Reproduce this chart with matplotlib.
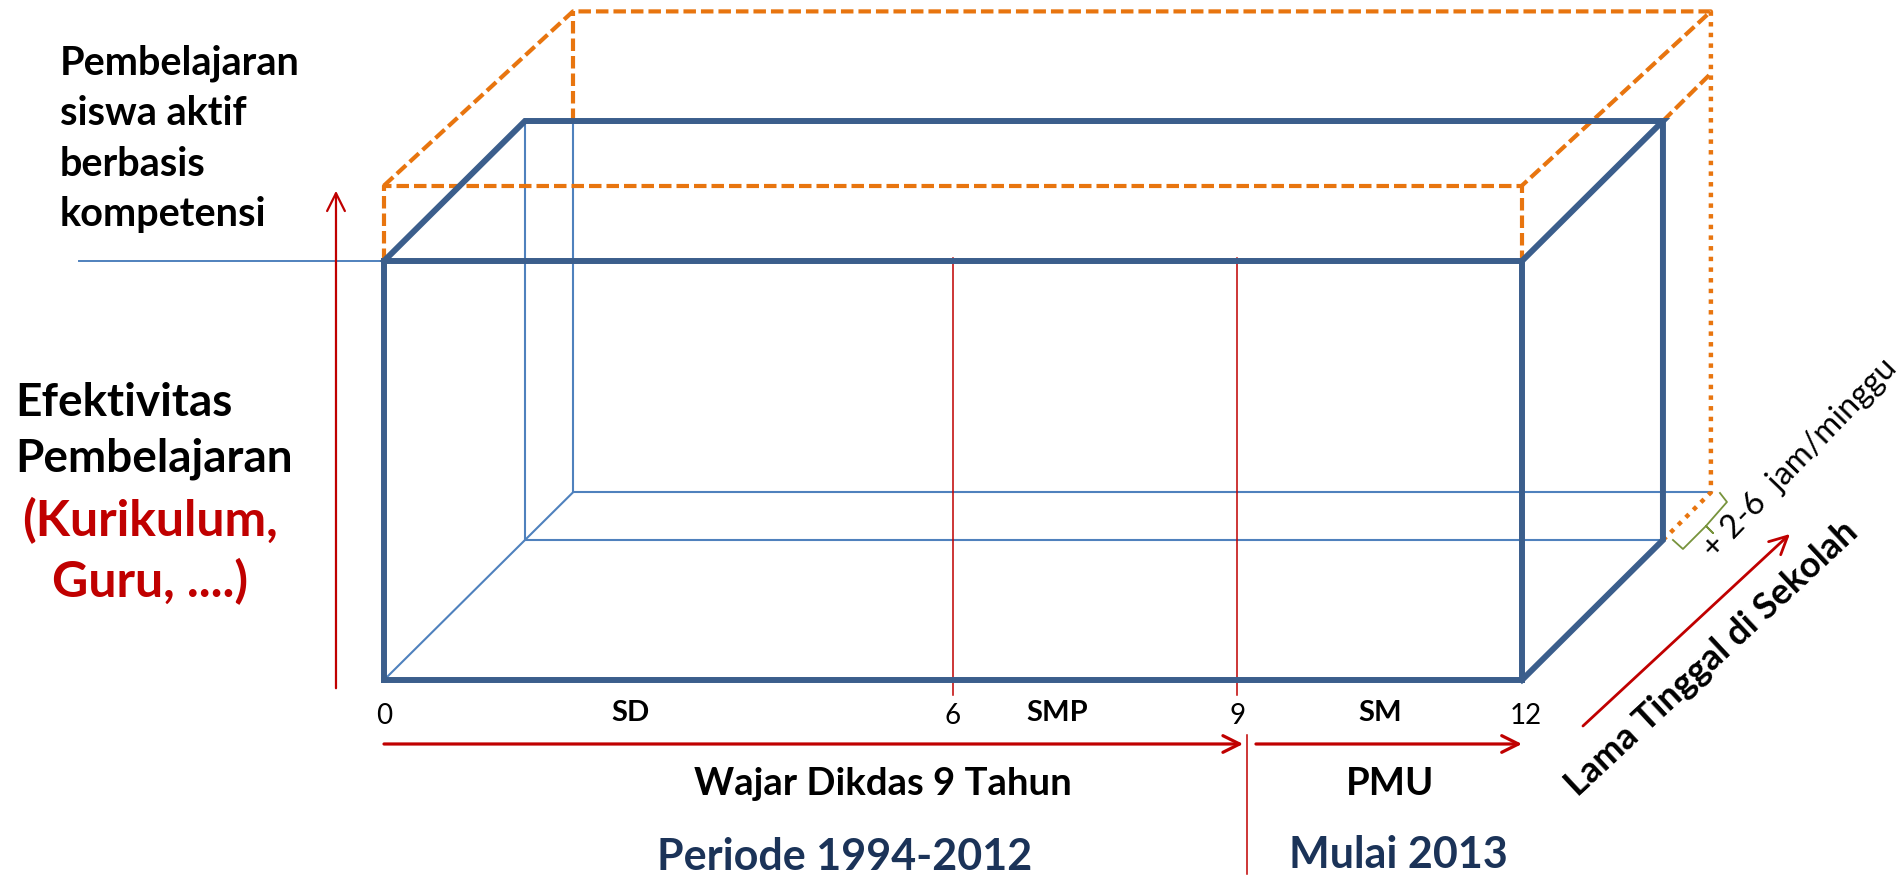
import matplotlib.pyplot as plt

# school years on the front edge and the level names between them
years = [0, 6, 9, 12]
year_labels = ['0', '6', '9', '12']
levels = ['SD', 'SMP', 'SM']
level_pos = [2.6, 7.1, 10.5]

# box: length in years, height = effectiveness, depth = time spent at school
box_len = 12
box_h = 1.0
box_d = 1.0
new_h_front = 1.18
new_h_back = 1.148
new_d = 1.34

# oblique projection of the depth axis (per unit depth)
DT, DH = 1.4868, 0.3341

BLUE = '#3B5E8C'
BLUE_THIN = '#4F81BD'
ORANGE = '#E8750F'
RED = '#C00000'
NAVY = '#1B3358'
GREEN = '#77933C'
FONT = 'Lato'


def proj(t, h, d):
    return t + DT * d, h + DH * d


def at(px, py):
    # reference picture pixel -> data coordinates (used for text placement)
    return (px - 384) / 94.833, (680 - py) / 419


def line(ax, pts, **kw):
    xy = [proj(*p) for p in pts]
    ax.plot([p[0] for p in xy], [p[1] for p in xy], **kw)


fig = plt.figure(figsize=(19.01, 8.76), dpi=100)
ax = fig.add_axes([0, 0, 1, 1])
ax.set_xlim(-4.0492, 15.997)
ax.set_ylim(-0.4678, 1.6229)
ax.axis('off')

L, H, D = box_len, box_h, box_d
thick = dict(color=BLUE, lw=4.3, solid_joinstyle='miter', solid_capstyle='projecting', zorder=4)
thin = dict(color=BLUE_THIN, lw=1.5, zorder=2)
dash = dict(color=ORANGE, lw=3.0, ls=(0, (3, 1.2)), zorder=3)
dots = dict(color=ORANGE, lw=3.2, ls=(0, (1, 1.4)), zorder=3)

# hidden / back edges of the old box and the new (deeper) box
h_cross = H + DH * D - DH * new_d
line(ax, [(0, 0, 0), (0, 0, new_d)], **thin)
line(ax, [(0, H, D), (0, 0, D), (L, 0, D)], **thin)
line(ax, [(0, h_cross, new_d), (0, 0, new_d), (L, 0, new_d)], **thin)

# new box (orange)
line(ax, [(0, H, 0), (0, new_h_front, 0), (L, new_h_front, 0), (L, H, 0)], **dash)
line(ax, [(0, new_h_front, 0), (0, new_h_back, new_d), (L, new_h_back, new_d), (L, new_h_front, 0)], **dash)
line(ax, [(0, h_cross, new_d), (0, new_h_back, new_d)], **dash)
line(ax, [(L, H, D), (L, H, new_d)], **dash)
line(ax, [(L, new_h_back, new_d), (L, 0, new_d), (L, 0, D)], **dots)

# old box (thick blue)
line(ax, [(0, 0, 0), (L, 0, 0), (L, H, 0), (0, H, 0), (0, 0, 0)], **thick)
line(ax, [(0, H, 0), (0, H, D), (L, H, D), (L, H, 0)], **thick)
line(ax, [(L, H, D), (L, 0, D), (L, 0, 0)], **thick)

# level line from the left
ax.plot([-3.216, 0.2], [H, H], color=BLUE_THIN, lw=1.4, zorder=2)

# year separators at 6 and 9
for y in years[1:3]:
    ax.plot([y, y], [H + 0.007, -0.037], color=RED, lw=1.1, zorder=3)

# year ticks and level names
for y, lab in zip(years, year_labels):
    ax.text(y + (0.04 if y == 12 else 0), -0.087, lab, ha='center', va='center',
            fontsize=20, family=FONT, color='black')
for x, lab in zip(level_pos, levels):
    ax.text(x, -0.078, lab, ha='center', va='center', fontsize=21,
            family=FONT, fontweight='bold', color='black')

# vertical effectiveness arrow
ax.annotate('', xy=at(336, 188), xytext=at(336, 691),
            arrowprops=dict(arrowstyle='->', color=RED, lw=1.6, mutation_scale=32))

# bottom period arrows
yb = at(0, 744)[1]
ax.annotate('', xy=(9.06, yb), xytext=(0, yb),
            arrowprops=dict(arrowstyle='->', color=RED, lw=2.3, mutation_scale=30,
                            shrinkA=0, shrinkB=0))
ax.annotate('', xy=(L, yb), xytext=(9.195, yb),
            arrowprops=dict(arrowstyle='->', color=RED, lw=2.3, mutation_scale=30,
                            shrinkA=0, shrinkB=0))
ax.plot([9.1, 9.1], [at(0, 735)[1], at(0, 874)[1]], color=RED, lw=1.1)

# depth arrow
ax.annotate('', xy=at(1790, 534), xytext=at(1583, 726),
            arrowprops=dict(arrowstyle='->', color=RED, lw=2.0, mutation_scale=32,
                            shrinkA=0, shrinkB=0))

# brace for the extra hours
brace = [(1673, 540), (1683, 549), (1706, 526), (1713, 533), (1706, 526),
         (1727, 502), (1720, 493)]
bx, by = zip(*[at(*p) for p in brace])
ax.plot(bx, by, color=GREEN, lw=1.3, zorder=3)

# texts
ax.text(*at(60, 139), 'Pembelajaran\nsiswa aktif\nberbasis\nkompetensi', ha='left', va='center',
        fontsize=28.5, family=FONT, fontweight='bold', linespacing=1.45)
ax.text(*at(15, 431), 'Efektivitas\nPembelajaran', ha='left', va='center',
        fontsize=33, family=FONT, fontweight='bold', linespacing=1.4)
ax.text(*at(150, 551), '(Kurikulum,\nGuru, ....)', ha='center', va='center',
        fontsize=36, family=FONT, fontweight='bold', linespacing=1.36, color=RED)

ax.text(*at(883, 784), 'Wajar Dikdas 9 Tahun', ha='center', va='center',
        fontsize=27.5, family=FONT, fontweight='bold')
ax.text(*at(1390, 784), 'PMU', ha='center', va='center',
        fontsize=27.5, family=FONT, fontweight='bold')
ax.text(*at(845, 857), 'Periode 1994-2012', ha='center', va='center',
        fontsize=31, family=FONT, fontweight='bold', color=NAVY)
ax.text(*at(1398, 855), 'Mulai 2013', ha='center', va='center',
        fontsize=31, family=FONT, fontweight='bold', color=NAVY)

ax.text(*at(1712, 658), 'Lama Tinggal di Sekolah', ha='center', va='center', rotation=43,
        rotation_mode='anchor', fontsize=26, family=FONT, fontweight='bold')
ax.text(*at(1800, 458), '+ 2-6  jam/minggu', ha='center', va='center', rotation=46,
        rotation_mode='anchor', fontsize=23.5, family=FONT)

fig.savefig('out.png', dpi=100)
